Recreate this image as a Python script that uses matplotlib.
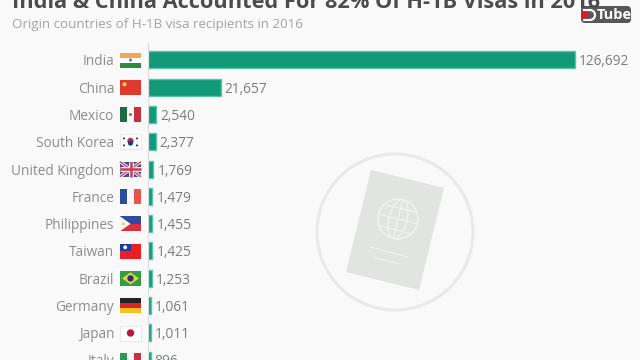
import numpy as np
import matplotlib
matplotlib.use("Agg")
import matplotlib.pyplot as plt
import matplotlib.patheffects as pe
from matplotlib.patches import Rectangle, Polygon, Circle, Ellipse, Arc, FancyBboxPatch
from matplotlib.transforms import Affine2D

countries = ["India", "China", "Mexico", "South Korea", "United Kingdom", "France",
             "Philippines", "Taiwan", "Brazil", "Germany", "Japan", "Italy"]
visas = [126692, 21657, 2540, 2377, 1769, 1479, 1455, 1425, 1253, 1061, 1011, 896]
title = "India & China Accounted For 82% Of H-1B Visas in 2016"
subtitle = "Origin countries of H-1B visa recipients in 2016"

plt.rcParams['font.family'] = ['Open Sans', 'DejaVu Sans']
BG = "#f8f9f8"
GREEN = "#129a78"
fig = plt.figure(figsize=(6.4, 3.6), dpi=100, facecolor=BG)

ov = fig.add_axes([0, 0, 1, 1], zorder=0)
ov.set_xlim(0, 640); ov.set_ylim(360, 0); ov.axis("off")

ax = fig.add_axes([147.5/640, 0, 492.5/640, 1], zorder=1)
ax.patch.set_alpha(0)
ax.set_xlim(0, 492.5/0.003374)
ax.set_ylim(10.99, -2.198)
ypos = np.arange(len(countries))
ax.barh(ypos, visas, height=0.62, color=GREEN, edgecolor="#5cc4a8", linewidth=1.0)
for y, v in zip(ypos, visas):
    ax.annotate(f"{v:,}", (v, y), xytext=(3.0, 0), textcoords="offset points",
                va="center_baseline", ha="left", fontsize=9.9, color="#7a7f7d")
ax.set_yticks(ypos)
ax.set_yticklabels(countries, fontsize=9.8, color="#8a8e8c")
ax.tick_params(axis="y", length=0, pad=24)
ax.set_xticks([])
for s in ["top", "right", "bottom"]:
    ax.spines[s].set_visible(False)
ax.spines["left"].set_color("#d8dcdc")
ax.spines["left"].set_linewidth(0.8)
ax.spines["left"].set_bounds(-0.62, 10.99)

fig.text(12/640, 1 - 7.5/360, title, fontsize=15.7, fontweight="bold", color="#4a4d4c",
         ha="left", va="baseline")
fig.text(12/640, 1 - 28/360, subtitle, fontsize=9.6, color="#a2a5a4", ha="left", va="baseline")

FX, FW, FH = 120, 21, 15
def rows(y):
    return 60 + 27.3*y
def bands(i, cols, vertical=False):
    cy = rows(i); n = len(cols)
    for k, c in enumerate(cols):
        if vertical:
            ov.add_patch(Rectangle((FX + FW*k/n, cy - FH/2), FW/n, FH, color=c, lw=0))
        else:
            ov.add_patch(Rectangle((FX, cy - FH/2 + FH*k/n), FW, FH/n, color=c, lw=0))
def dot(i, dx, dy, r, c):
    ov.add_patch(Circle((FX + FW/2 + dx, rows(i) + dy), r, color=c, lw=0))

bands(0, ["#f2a65a", "#ffffff", "#2e8b3d"]); dot(0, 0, 0, 1.6, "#6a7fa8")
bands(1, ["#dc3a2c"]); dot(1, -6, -3, 2, "#f5d64a")
bands(2, ["#1f6b45", "#f7f7f7", "#c6303f"], True); dot(2, 0, 0, 1.6, "#9a7a50")
bands(3, ["#ffffff"]); dot(3, 0, -1, 3.2, "#c9304a"); dot(3, 0, 1.2, 2.6, "#1f3d80")
for dx in (-6.5, 6.5):
    for dy in (-3.5, 3.5):
        dot(3, dx, dy, 1.0, "#333333")
bands(4, ["#3d4f8a"])
cy = rows(4)
for (a, b), (c, d) in [((FX, cy-FH/2), (FX+FW, cy+FH/2)), ((FX, cy+FH/2), (FX+FW, cy-FH/2))]:
    ov.plot([a, c], [b, d], color="#f0e4e8", lw=2.4, solid_capstyle="butt")
    ov.plot([a, c], [b, d], color="#c8405a", lw=0.9, solid_capstyle="butt")
ov.plot([FX, FX+FW], [cy, cy], color="#f0e4e8", lw=3.6, solid_capstyle="butt")
ov.plot([FX+FW/2]*2, [cy-FH/2, cy+FH/2], color="#f0e4e8", lw=3.6, solid_capstyle="butt")
ov.plot([FX, FX+FW], [cy, cy], color="#c8405a", lw=1.8, solid_capstyle="butt")
ov.plot([FX+FW/2]*2, [cy-FH/2, cy+FH/2], color="#c8405a", lw=1.8, solid_capstyle="butt")
bands(5, ["#2a4f9a", "#f7f7f7", "#e8564a"], True)
bands(6, ["#2f4aa0", "#d8303c"])
cy = rows(6)
ov.add_patch(Polygon([(FX, cy-FH/2), (FX+10.5, cy), (FX, cy+FH/2)], color="#f8f6ee", lw=0))
dot(6, -7, 0, 1.3, "#e8c840")
bands(7, ["#ee1c25"])
ov.add_patch(Rectangle((FX, rows(7)-FH/2), 10.5, FH/2, color="#1f3a9c", lw=0)); dot(7, -5.3, -3.8, 1.9, "#ffffff")
bands(8, ["#2f9e44"])
cy = rows(8)
ov.add_patch(Polygon([(FX+2, cy), (FX+FW/2, cy-6), (FX+FW-2, cy), (FX+FW/2, cy+6)], color="#e8d040", lw=0))
dot(8, 0, 0, 3.2, "#27346e")
bands(9, ["#222222", "#d8232a", "#f4c020"])
bands(10, ["#ffffff"]); dot(10, 0, 0, 3.7, "#b8183c")
bands(11, ["#2a9a50", "#f7f7f7", "#c6303f"], True)
for i in (3, 10):
    ov.add_patch(Rectangle((FX, rows(i)-FH/2), FW, FH, fill=False, ec="#e4e6e6", lw=0.6))

GR = "#e2e4e2"
ov.add_patch(Circle((395, 232), 78, fill=False, ec="#e8e9e8", lw=2.2))
ov.add_patch(Polygon([(371, 170), (444, 188), (419, 290), (346, 272)], color=GR, lw=0))
rot = Affine2D().rotate_deg_around(398, 219, 14) + ov.transData
LN = "#f1f2f1"
ov.add_patch(Circle((398, 219), 20, fill=False, ec=LN, lw=1.1, transform=rot))
ov.add_patch(Ellipse((398, 219), 18, 40, fill=False, ec=LN, lw=0.9, transform=rot))
for dy in (-11, 0, 11):
    w = np.sqrt(400 - dy*dy)
    ov.plot([398-w, 398+w], [219+dy]*2, color=LN, lw=0.9, transform=rot)
ov.plot([398, 398], [199, 239], color=LN, lw=0.9, transform=rot)
ov.plot([370, 408], [247, 257], color=LN, lw=0.9)
ov.plot([375, 399], [258, 264], color=LN, lw=0.9)

ov2 = fig.add_axes([0, 0, 1, 1], zorder=3)
ov2.set_xlim(0, 640); ov2.set_ylim(360, 0); ov2.axis("off"); ov2.patch.set_alpha(0)
ov2.add_patch(FancyBboxPatch((583, 8), 46, 13, boxstyle="round,pad=2,rounding_size=4",
                             color="#2e2e2e", alpha=0.8, lw=0))
ov2.add_patch(Polygon([(582, 10.5), (590, 15), (582, 19.5)], color="#ee1122", lw=0))
ov2.add_patch(Arc((590, 15), 10, 10, theta1=-90, theta2=90, ec="white", lw=1.6))
ov2.plot([584, 590], [10, 10], color="white", lw=1.5)
ov2.plot([584, 590], [20, 20], color="white", lw=1.5)
ov2.text(596.5, 15, "Tube", color="white", fontsize=10.5, fontweight="bold",
         va="center", ha="left")

fig.savefig("out.png", dpi=100, facecolor=BG)
